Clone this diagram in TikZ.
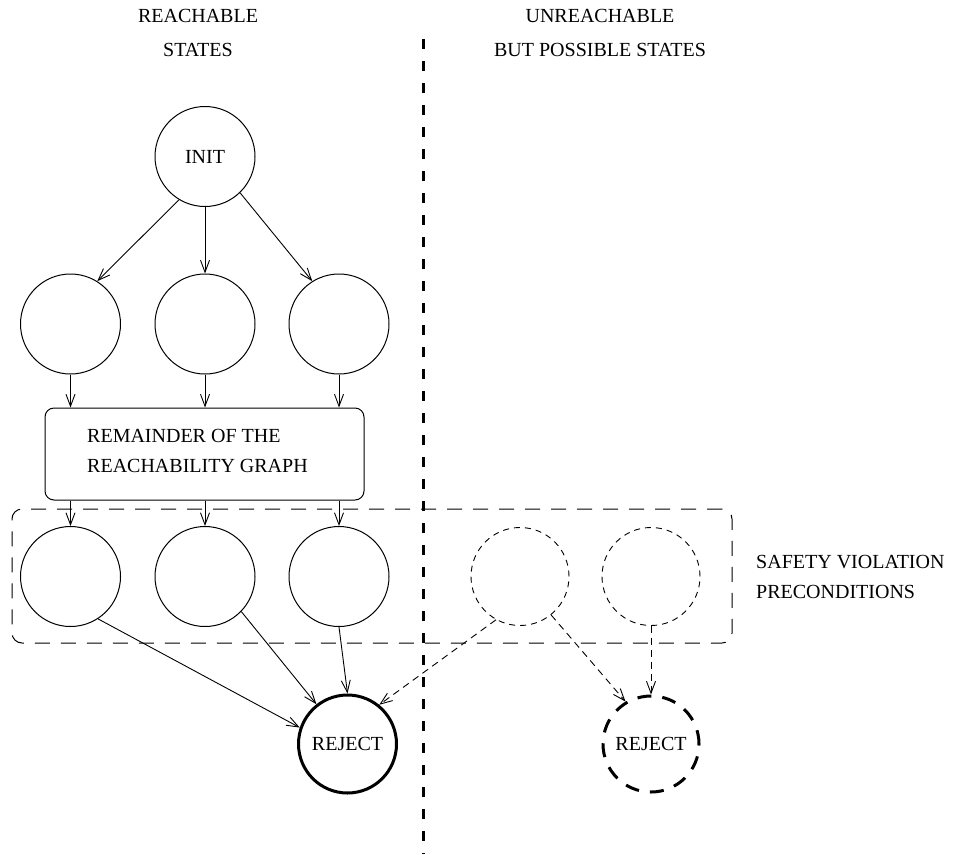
\documentclass[tikz,border=0pt]{standalone}
\usepackage{fontspec}
\setmainfont{Liberation Serif}
\usetikzlibrary{arrows.meta}
\begin{document}
\begin{tikzpicture}[x=1pt,y=-1pt,
  txt/.style={font=\fontsize{20}{30}\selectfont, inner sep=0pt},
  st/.style={circle, draw, line width=1pt, minimum size=100pt, inner sep=0pt, txt},
  ust/.style={circle, draw, line width=0.9pt, dash pattern=on 6pt off 5pt, minimum size=98pt, inner sep=0pt},
  rejsolid/.style={circle, draw, line width=3pt, minimum size=98pt, inner sep=0pt, txt},
  rejdash/.style={circle, draw, line width=3pt, dash pattern=on 14pt off 11pt, minimum size=96pt, inner sep=0pt, txt},
  arr/.style={-{Straight Barb[length=12pt,width=9pt]}, line width=0.9pt},
  darr/.style={arr, dash pattern=on 7pt off 5pt},
  divider/.style={line width=3pt, dash pattern=on 10pt off 12pt},
  region/.style={draw, line width=1pt, dash pattern=on 15pt off 11pt, rounded corners=10pt, minimum width=720pt, minimum height=134pt},
]
\useasboundingbox (0,0) rectangle (960,854);

% headings
\node[txt, align=center, font=\fontsize{20}{34}\selectfont] (hl) at (198,32.5) {REACHABLE\\STATES};
\node[txt, align=center, font=\fontsize{20}{34}\selectfont] (hr) at (600,32.5) {UNREACHABLE\\BUT POSSIBLE STATES};

% divider
\coordinate (dtop) at (423,39);
\coordinate (dbot) at (423,854);
\draw[divider] (dtop) -- (dbot);

% init
\node[st] (init) at (205,156.5) {INIT};

% second row
\node[st] (a1) at (70.5,324) {};
\node[st] (a2) at (205,324) {};
\node[st] (a3) at (339,324) {};

% remainder box
\node[draw, line width=1pt, rounded corners=9pt, minimum width=319pt, minimum height=92pt] (rem) at (204.5,454) {};
\node[txt, align=left, anchor=west] (remtxt) at (87,450.5) {REMAINDER OF THE\\REACHABILITY GRAPH};

% precondition region
\node[region] (pre) at (372,576) {};
\node[txt, align=left, anchor=west] (svtxt) at (756,576.5) {SAFETY VIOLATION\\PRECONDITIONS};

% third row
\node[st] (b1) at (70.5,576.5) {};
\node[st] (b2) at (205,576.5) {};
\node[st] (b3) at (339,576.5) {};
\node[ust] (u1) at (520,576.5) {};
\node[ust] (u2) at (651,576.5) {};

% rejects
\node[rejsolid] (rj) at (347.5,744) {REJECT};
\node[rejdash] (rj2) at (651,744) {REJECT};

% arrows
\draw[arr] (init.239) -- (a1.58);
\draw[arr] (init.south) -- (a2.north);
\draw[arr] (init.314) -- (a3.122);

\draw[arr] (a1.south) -- (a1.south |- rem.north);
\draw[arr] (a2.south) -- (a2.south |- rem.north);
\draw[arr] (a3.south) -- (a3.south |- rem.north);

\draw[arr] (rem.south -| b1.north) -- (b1.north);
\draw[arr] (rem.south -| b2.north) -- (b2.north);
\draw[arr] (rem.south -| b3.north) -- (b3.north);

\draw[arr] (b1.-57) -- (rj.161);
\draw[arr] (b2.-44) -- (rj.128);
\draw[arr] (b3.south) -- (rj.north);

\draw[darr] (u1.241) -- (rj.51);
\draw[darr] (u1.-51) -- (rj2.121);
\draw[darr] (u2.south) -- (rj2.north);
\end{tikzpicture}
\end{document}
